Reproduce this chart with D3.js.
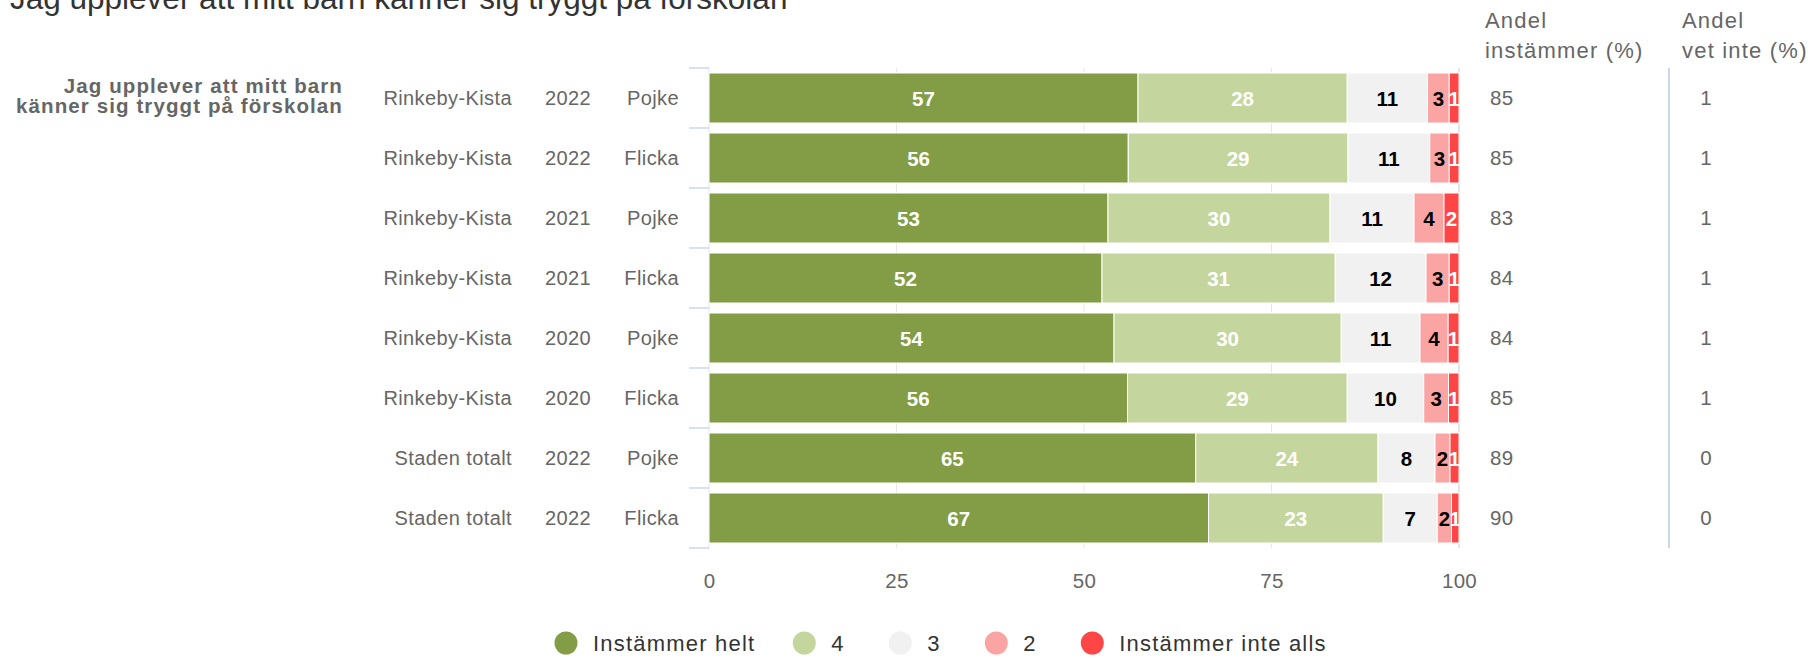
<!DOCTYPE html>
<html>
<head>
<meta charset="utf-8">
<script src="https://cdn.jsdelivr.net/npm/d3@7"></script>
<style>
  body { margin: 0; background: #fff; }
  svg { display: block; font-family: "Liberation Sans", Arial, sans-serif; }
</style>
</head>
<body>
<svg id="chart"></svg>
<script>

// data
const regions = ["Rinkeby-Kista", "Rinkeby-Kista", "Rinkeby-Kista", "Rinkeby-Kista", "Rinkeby-Kista", "Rinkeby-Kista", "Staden totalt", "Staden totalt"];
const years = ["2022", "2022", "2021", "2021", "2020", "2020", "2022", "2022"];
const genders = ["Pojke", "Flicka", "Pojke", "Flicka", "Pojke", "Flicka", "Pojke", "Flicka"];

const instammerHelt = [57.2, 55.9, 53.2, 52.4, 54.0, 55.8, 64.9, 66.6];
const svar4 = [27.9, 29.3, 29.6, 31.1, 30.3, 29.3, 24.3, 23.3];
const svar3 = [10.7, 10.9, 11.2, 12.1, 10.5, 10.2, 7.6, 7.2];
const svar2 = [2.9, 2.6, 4.0, 3.1, 3.75, 3.3, 2.0, 1.9];
const instammerInteAlls = [1.3, 1.3, 2.0, 1.3, 1.45, 1.4, 1.2, 1.0];

const andelInstammer = [85, 85, 83, 84, 84, 85, 89, 90];
const andelVetInte = [1, 1, 1, 1, 1, 1, 0, 0];

const seriesNames = ["Instämmer helt", "4", "3", "2", "Instämmer inte alls"];
const seriesColors = ["#829d45", "#c4d69d", "#f1f1f1", "#fba4a4", "#ff4646"];
const labelColors = ["#fff", "#fff", "#000", "#000", "#fff"];
const xTicks = [0, 25, 50, 75, 100];

const title = "Jag upplever att mitt barn känner sig tryggt på förskolan";
const groupLabel = ["Jag upplever att mitt barn", "känner sig tryggt på förskolan"];
const colHeaders = [["Andel", "instämmer (%)"], ["Andel", "vet inte (%)"]];

const width = 1808, height = 658;
const plot = {left: 709, right: 1459, top: 68, bottom: 548};

const svg = d3.select("#chart")
  .attr("width", width)
  .attr("height", height);

const x = d3.scaleLinear().domain([0, 100]).range([plot.left, plot.right]);
const rows = d3.scaleBand().domain(d3.range(regions.length)).range([plot.top, plot.bottom]);
const y = d3.scaleBand().domain(d3.range(regions.length)).range([plot.top, plot.bottom])
  .paddingInner(1 / 6).paddingOuter(1 / 12);
const rowBase = i => rows(i) + rows.bandwidth() / 2 + 7;

const table = regions.map((r, i) => ({
  s0: instammerHelt[i], s1: svar4[i], s2: svar3[i], s3: svar2[i], s4: instammerInteAlls[i]
}));
const stacked = d3.stack().keys(["s0", "s1", "s2", "s3", "s4"])(table);

// title (cut off at the top like the reference)
svg.append("text")
  .attr("x", 10).attr("y", 9)
  .attr("font-size", 31.5)
  .attr("fill", "#333")
  .text(title);

// gridlines
svg.append("g").selectAll("line")
  .data(xTicks)
  .join("line")
  .attr("x1", d => x(d)).attr("x2", d => x(d))
  .attr("y1", plot.top).attr("y2", plot.bottom)
  .attr("stroke", "#e6e6e6")
  .attr("stroke-width", d => d === 100 ? 2 : 1);

// category ticks on the left
svg.append("g").selectAll("line")
  .data(d3.range(regions.length + 1))
  .join("line")
  .attr("x1", plot.left - 20).attr("x2", plot.left)
  .attr("y1", d => plot.top + d * rows.step())
  .attr("y2", d => plot.top + d * rows.step())
  .attr("stroke", "#ccd6eb")
  .attr("stroke-width", 1.5);

// bars
const series = svg.append("g").selectAll("g")
  .data(stacked)
  .join("g")
  .attr("fill", (d, i) => seriesColors[i]);

series.selectAll("rect")
  .data(d => d)
  .join("rect")
  .attr("x", d => x(d[0]))
  .attr("width", d => x(d[1]) - x(d[0]))
  .attr("y", (d, i) => y(i))
  .attr("height", y.bandwidth())
  .attr("stroke", "#fff")
  .attr("stroke-width", 1);

// data labels
svg.append("clipPath").attr("id", "plotClip")
  .append("rect")
  .attr("x", plot.left).attr("y", plot.top)
  .attr("width", plot.right - plot.left).attr("height", plot.bottom - plot.top);

const labels = svg.append("g").attr("clip-path", "url(#plotClip)");
stacked.forEach((s, si) => {
  labels.selectAll(null)
    .data(s)
    .join("text")
    .attr("x", d => (x(d[0]) + x(d[1])) / 2)
    .attr("y", (d, i) => rowBase(i) + 0.5)
    .attr("text-anchor", "middle")
    .attr("font-size", 20.5)
    .attr("font-weight", "bold")
    .attr("fill", labelColors[si])
    .text(d => Math.round(d[1] - d[0]));
});

// category labels (three columns)
const catCols = [[regions, 512], [years, 591], [genders, 679]];
catCols.forEach(([vals, cx]) => {
  svg.append("g").selectAll("text")
    .data(vals)
    .join("text")
    .attr("x", cx)
    .attr("y", (d, i) => rowBase(i))
    .attr("text-anchor", "end")
    .attr("font-size", 20)
    .attr("letter-spacing", 0.4)
    .attr("fill", "#666")
    .text(d => d);
});

// group label
svg.append("g").selectAll("text")
  .data(groupLabel)
  .join("text")
  .attr("x", 343)
  .attr("y", (d, i) => 93 + i * 20)
  .attr("text-anchor", "end")
  .attr("font-size", 20.5)
  .attr("font-weight", "bold")
  .attr("letter-spacing", 1.1)
  .attr("fill", "#666")
  .text(d => d);

// x axis labels
const xAxis = svg.append("g")
  .attr("transform", `translate(0,${plot.bottom})`)
  .call(d3.axisBottom(x).tickValues(xTicks).tickSize(0).tickPadding(25));
xAxis.select(".domain").remove();
xAxis.selectAll("text")
  .attr("font-size", 20.5)
  .attr("letter-spacing", 0.3)
  .attr("fill", "#666")
  .attr("font-family", "Liberation Sans, Arial, sans-serif");

// right-hand columns
const colX = [1485, 1682];
colHeaders.forEach((h, ci) => {
  svg.append("g").selectAll("text")
    .data(h)
    .join("text")
    .attr("x", colX[ci])
    .attr("y", (d, i) => 28 + i * 30)
    .attr("font-size", 22)
    .attr("letter-spacing", 1.2)
    .attr("fill", "#666")
    .text(d => d);
});

svg.append("line")
  .attr("x1", 1669).attr("x2", 1669)
  .attr("y1", plot.top).attr("y2", plot.bottom)
  .attr("stroke", "#ccd6eb")
  .attr("stroke-width", 2);

svg.append("g").selectAll("text")
  .data(andelInstammer)
  .join("text")
  .attr("x", 1490)
  .attr("y", (d, i) => rowBase(i))
  .attr("font-size", 20.5)
  .attr("letter-spacing", 0.4)
  .attr("fill", "#666")
  .text(d => d);

svg.append("g").selectAll("text")
  .data(andelVetInte)
  .join("text")
  .attr("x", 1706)
  .attr("y", (d, i) => rowBase(i))
  .attr("text-anchor", "middle")
  .attr("font-size", 20.5)
  .attr("fill", "#666")
  .text(d => d);

// legend
const legend = svg.append("g").attr("transform", "translate(566,643)");
let cursor = 0;
seriesNames.forEach((name, i) => {
  const item = legend.append("g").attr("transform", `translate(${cursor},0)`);
  item.append("circle")
    .attr("cx", 0).attr("cy", 0).attr("r", 11.5)
    .attr("fill", seriesColors[i]);
  const t = item.append("text")
    .attr("x", 27).attr("y", 8)
    .attr("font-size", 22)
    .attr("letter-spacing", 1.2)
    .attr("fill", "#333")
    .text(name);
  cursor += 27 + Math.max(t.node().getComputedTextLength(), 20) + 49;
});

</script>
</body>
</html>
